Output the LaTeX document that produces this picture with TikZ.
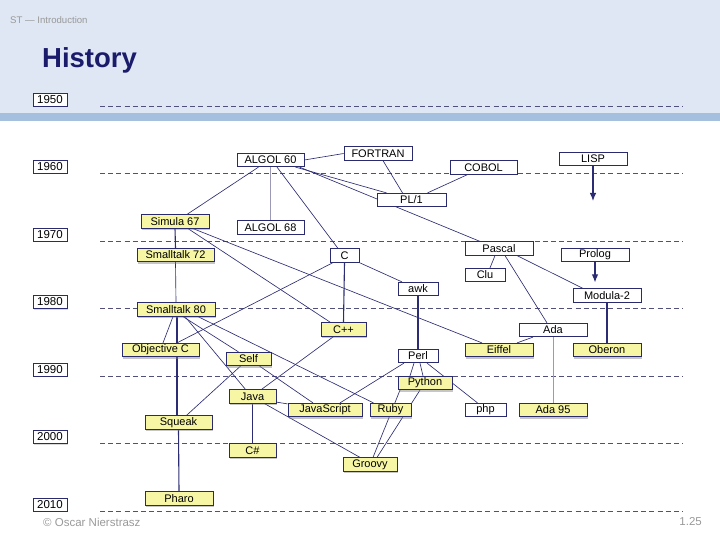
\documentclass[tikz,border=0pt]{standalone}
\usepackage{fontspec}
\setmainfont{Liberation Sans}
\usetikzlibrary{shadows,arrows.meta,calc}
\pgfdeclarelayer{background}
\pgfsetlayers{background,main}
\definecolor{navy}{HTML}{2A2A6E}
\definecolor{edgec}{HTML}{2C2C74}
\definecolor{yel}{HTML}{F6F6A4}
\definecolor{grayedge}{HTML}{9A9AB8}
\definecolor{headbg}{HTML}{DEE7F3}
\definecolor{band}{HTML}{A4C0DE}
\definecolor{titlec}{HTML}{1B1B6B}
\definecolor{dashc}{HTML}{50507A}
\definecolor{foot}{HTML}{999999}
\tikzset{
  lang/.style={draw=navy, line width=0.7pt, fill=white, inner sep=0pt,
    minimum height=13.5pt, font=\fontsize{11}{12}\selectfont, text=black},
  yl/.style={lang, fill=yel, drop shadow={opacity=0.45, shadow xshift=1.2pt, shadow yshift=-1.8pt}},
  yearbox/.style={draw=navy, line width=0.7pt, fill=white, inner sep=0pt,
    minimum width=34pt, minimum height=13pt, font=\fontsize{11.5}{12}\selectfont,
    text=black, drop shadow={opacity=0.3, shadow xshift=0.6pt, shadow yshift=-1pt}},
  edge/.style={draw=edgec, line width=0.65pt},
  thick edge/.style={draw=edgec, line width=1.1pt},
  gray edge/.style={draw=grayedge, line width=1pt},
  arrow edge/.style={draw=edgec, line width=1.1pt, -{Latex[length=8pt,width=6.5pt]}},
  timeline/.style={draw=dashc, line width=0.65pt, dash pattern=on 5pt off 3.2pt},
}
\begin{document}
\begin{tikzpicture}[x=1pt,y=-1pt]
\path[use as bounding box] (0,0) rectangle (720,540);
% header texts
\node[anchor=west, text=foot, font=\fontsize{9.6}{10}\selectfont, inner sep=0] (hdr) at (10,20) {ST — Introduction};
\node[anchor=base west, text=titlec, font=\fontsize{27.5}{30}\selectfont\bfseries, inner sep=0] (title) at (42,68) {History};
\node[anchor=west, text=foot, font=\fontsize{11.5}{12}\selectfont, inner sep=0] (copy) at (43,522) {© Oscar Nierstrasz};
\node[anchor=east, text=foot, font=\fontsize{11.5}{12}\selectfont, inner sep=0] (page) at (702,522) {1.25};
% years
\foreach \yr [count=\i from 0] in {1950,1960,1970,1980,1990,2000,2010}{
  \node[yearbox] (y\yr) at (50,99.5+67.5*\i) {\yr};
}
% languages
\node[lang, minimum width=67pt] (algol60) at (270.5,160) {ALGOL 60};
\node[lang, minimum width=68pt] (fortran) at (378,153.5) {FORTRAN};
\node[lang, minimum width=67pt] (cobol) at (483.5,167.5) {COBOL};
\node[lang, minimum width=68pt] (lisp) at (593,159) {LISP};
\node[lang, minimum width=69pt] (pl1) at (411.5,200) {PL/1};
\node[yl, minimum width=68pt] (simula) at (175,221.5) {Simula 67};
\node[lang, minimum width=67pt] (algol68) at (270.5,227.5) {ALGOL 68};
\node[yl, minimum width=77pt] (st72) at (175.5,255) {Smalltalk 72};
\node[lang, minimum width=29pt] (c) at (344.5,255.5) {C};
\node[lang, minimum width=68pt] (pascal) at (499,248.5) {Pascal};
\node[lang, minimum width=68pt] (prolog) at (595,255) {Prolog};
\node[lang, minimum width=40pt] (clu) at (485,275) {Clu};
\node[lang, minimum width=40pt] (awk) at (418,289) {awk};
\node[lang, minimum width=68pt] (modula) at (607,295.5) {Modula-2};
\node[yl, minimum width=78pt] (st80) at (176,309.5) {Smalltalk 80};
\node[yl, minimum width=45pt] (cpp) at (343.5,329.5) {C++};
\node[lang, minimum width=68pt] (ada) at (553,330) {Ada};
\node[yl, minimum width=77pt] (objc) at (160.5,350) {Objective C};
\node[yl, minimum width=68pt] (eiffel) at (499,350) {Eiffel};
\node[yl, minimum width=68pt] (oberon) at (607,350) {Oberon};
\node[lang, minimum width=40pt] (perl) at (418,356) {Perl};
\node[yl, minimum width=45pt] (self) at (248.5,359) {Self};
\node[yl, minimum width=54pt] (python) at (425,383) {Python};
\node[yl, minimum width=47pt] (java) at (252.5,396.5) {Java};
\node[yl, minimum width=74pt] (js) at (325,410) {JavaScript};
\node[yl, minimum width=41pt] (ruby) at (390.5,410) {Ruby};
\node[lang, minimum width=41pt] (php) at (485.5,410) {php};
\node[yl, minimum width=68pt] (ada95) at (553,410) {Ada 95};
\node[yl, minimum width=67pt] (squeak) at (178.5,422.5) {Squeak};
\node[yl, minimum width=47pt] (csharp) at (252.5,450.5) {C\#};
\node[yl, minimum width=54pt] (groovy) at (370,464.5) {Groovy};
\node[yl, minimum width=68pt] (pharo) at (179,498.5) {Pharo};
\coordinate (lispend) at (593,201);

\begin{pgfonlayer}{background}
  \fill[headbg] (0,0) rectangle (720,113);
  \fill[band] (0,113) rectangle (720,121);
  \foreach \i in {0,...,6}{
    \draw[timeline] (100,106+67.5*\i) -- (683,106+67.5*\i);
  }
  % edges
  \draw[edge] (algol60.east) -- (fortran.west);
  \draw[edge] ([xshift=-12pt]algol60.south) -- ([xshift=12pt]simula.north);
  \draw[gray edge] (algol60.south) -- (algol68.north);
  \draw[edge] ([xshift=6.5pt]algol60.south) -- ([xshift=-6.5pt]c.north);
  \draw[edge] ([xshift=25pt]algol60.south) -- ([xshift=-25pt]pl1.north);
  \draw[edge] ([xshift=29pt]algol60.south) -- ([xshift=-19pt]pascal.north);
  \draw[edge] ([xshift=5pt]fortran.south) -- ([xshift=-9pt]pl1.north);
  \draw[edge] ([xshift=-16pt]cobol.south) -- ([xshift=16pt]pl1.north);
  \draw[arrow edge] (lisp.south) -- (lispend);
  \draw[thick edge] (simula.south) -- (st72.north);
  \draw[edge] ([xshift=13pt]simula.south) -- ([xshift=-13pt]cpp.north);
  \draw[edge] ([xshift=18pt]simula.south) -- ([xshift=-17pt]eiffel.north);
  \draw[edge] (st72.south) -- (st80.north);
  \draw[thick edge] (c.south) -- (cpp.north);
  \draw[edge] (c.south east) -- ([xshift=-16pt]awk.north);
  \draw[edge] ([xshift=-11.5pt]c.south) -- ([xshift=16.5pt]objc.north);
  \draw[edge] ([xshift=-4pt]pascal.south) -- ([xshift=5pt]clu.north);
  \draw[edge] ([xshift=6pt]pascal.south) -- ([xshift=-6pt]ada.north);
  \draw[edge] ([xshift=18pt]pascal.south) -- ([xshift=-24pt]modula.north);
  \draw[arrow edge, shorten >=6pt] (prolog.south) -- (prolog.south |- modula.north);
  \draw[thick edge] (modula.south) -- (oberon.north);
  \draw[thick edge] (awk.south) -- (perl.north);
  \draw[edge] ([xshift=-20pt]ada.south) -- ([xshift=18pt]eiffel.north);
  \draw[gray edge] (ada.south) -- (ada95.north);
  \draw[edge] ([xshift=-3pt]st80.south) -- ([xshift=2.5pt]objc.north);
  \draw[thick edge] ([xshift=1pt]st80.south) -- ([xshift=-1.5pt]squeak.north);
  \draw[thick edge] (squeak.south) -- (pharo.north);
  \draw[edge] ([xshift=7pt]st80.south) -- ([xshift=-10pt]self.north);
  \draw[edge] ([xshift=9pt]st80.south) -- ([xshift=-7pt]java.north);
  \draw[edge] ([xshift=22pt]st80.south) -- ([xshift=-17pt]ruby.north);
  \draw[edge] ([xshift=-10pt]cpp.south) -- ([xshift=9pt]java.north);
  \draw[edge] ([xshift=-8pt]self.south) -- ([xshift=8pt]squeak.north);
  \draw[edge] ([xshift=11pt]self.south) -- ([xshift=-12pt]js.north);
  \draw[thick edge] (java.south) -- (csharp.north);
  \draw[edge] ([yshift=1.5pt]java.south east) -- ([yshift=-1pt]js.north west);
  \draw[edge] ([xshift=12pt]java.south) -- ([xshift=-10pt]groovy.north);
  \draw[edge] ([xshift=-4pt]perl.south) -- ([xshift=-15pt]python.north);
  \draw[edge] ([xshift=2pt]perl.south) -- ([xshift=-2pt]python.north);
  \draw[edge] ([xshift=9pt]perl.south) -- ([xshift=-8pt]php.north);
  \draw[edge] ([xshift=-14pt]perl.south) -- ([xshift=15pt]js.north);
  \draw[edge] ([xshift=-25pt]python.south) -- ([xshift=3pt]groovy.north);
  \draw[edge] ([xshift=-5pt]python.south) -- ([xshift=7pt]groovy.north);
\end{pgfonlayer}
\end{tikzpicture}
\end{document}
